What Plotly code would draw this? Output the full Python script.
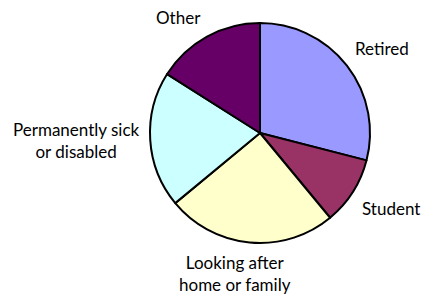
import math
import plotly.graph_objects as go

categories = ["Retired", "Student", "Looking after<br>home or family", "Permanently sick<br>or disabled", "Other"]
values = [29, 10, 25, 20, 16]
colors = ["#9999FF", "#993366", "#FFFFCC", "#CCFFFF", "#660066"]

W, H = 423, 297
cx, cy, r = 260, 133, 110   # pie centre/radius in px
r_lab = 118                  # radius at which the outside labels are anchored
char_w = 8.3                 # approx. label character width in px

fig = go.Figure(go.Pie(
    labels=categories, values=values, sort=False, direction="clockwise", rotation=0,
    marker=dict(colors=colors, line=dict(color="black", width=2)),
    textinfo="none", showlegend=False, hoverinfo="label+percent",
    domain=dict(x=[(cx - r) / W, (cx + r) / W],
                y=[(H - cy - r) / H, (H - cy + r) / H]),
))

# outside labels placed at each slice's mid-angle (computed from the values)
total = sum(values)
cum = 0
for lab, v in zip(categories, values):
    mid = (cum + v / 2) / total * 2 * math.pi
    cum += v
    s, c = math.sin(mid), math.cos(mid)
    px = cx + r_lab * s
    py = cy - r_lab * c
    xa = "left" if s > 0.4 else ("right" if s < -0.4 else "center")
    ya = "bottom" if c > 0.4 else ("top" if c < -0.4 else "middle")
    xshift = 0
    if xa == "center":
        half_w = max(len(t) for t in lab.split("<br>")) * char_w / 2
        xshift = s / 0.4 * half_w
    fig.add_annotation(
        x=px / W, y=1 - py / H, xref="paper", yref="paper",
        text=lab, showarrow=False, xanchor=xa, yanchor=ya, align="center",
        xshift=xshift,
        font=dict(family="Lato", size=17, color="black"),
    )

fig.update_layout(
    width=W, height=H,
    margin=dict(l=0, r=0, t=0, b=0),
    paper_bgcolor="white", plot_bgcolor="white",
)
fig.write_html("out.html", config={"displayModeBar": False},
               post_script="document.body.style.margin='0';document.body.style.overflow='hidden';")
